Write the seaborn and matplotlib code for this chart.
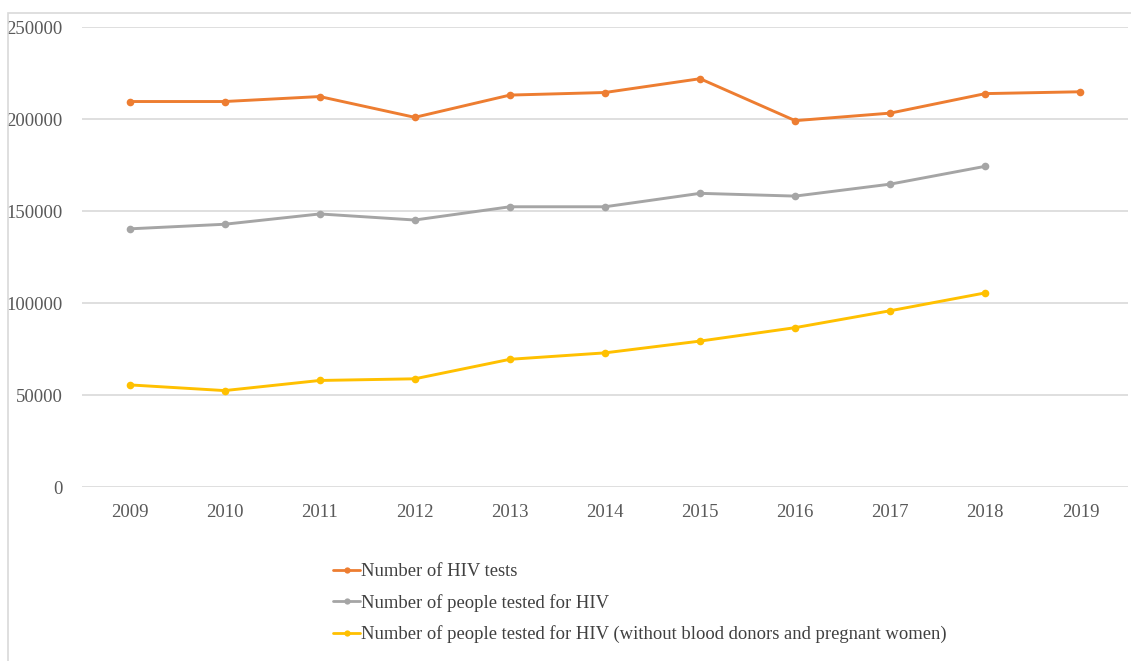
import numpy as np
import pandas as pd
import matplotlib
matplotlib.use("Agg")
import matplotlib.pyplot as plt
from matplotlib.lines import Line2D
from matplotlib.patches import Rectangle
import seaborn as sns

years = [2009, 2010, 2011, 2012, 2013, 2014, 2015, 2016, 2017, 2018, 2019]
hiv_tests = [209500, 209500, 212200, 200900, 213000, 214400, 221900, 199100, 203200, 213800, 214800]
people_tested = [140300, 142800, 148400, 145100, 152300, 152300, 159600, 158100, 164600, 174300, np.nan]
people_tested_excl = [55500, 52400, 57900, 58800, 69400, 72900, 79300, 86600, 95800, 105500, np.nan]

series_names = [
    "Number of HIV tests",
    "Number of people tested for HIV",
    "Number of people tested for HIV (without blood donors and pregnant women)",
]
colors = ["#ED7D31", "#A5A5A5", "#FFC000"]
y_ticks = [0, 50000, 100000, 150000, 200000, 250000]

frames = []
for name, vals in zip(series_names, [hiv_tests, people_tested, people_tested_excl]):
    frames.append(pd.DataFrame({"year": years, "value": vals, "series": name}))
df = pd.concat(frames, ignore_index=True).dropna()

sns.set_style("white")
plt.rcParams["font.family"] = ["Liberation Serif", "DejaVu Serif"]

fig = plt.figure(figsize=(11.31, 6.61), dpi=100)
ax = fig.add_axes([82 / 1131, 1 - 487 / 661, (1128 - 82) / 1131, (487 - 27) / 661])

sns.lineplot(data=df, x="year", y="value", hue="series", hue_order=series_names,
             palette=colors, marker="o", markersize=5.5, markeredgewidth=0,
             linewidth=2.1, ax=ax, legend=False, sort=True)

ax.set_xlim(2008.5, 2019.5)
ax.set_ylim(0, 250000)
ax.set_xticks(years)
ax.set_xticklabels([str(y) for y in years])
ax.set_yticks(y_ticks)
ax.set_yticklabels([str(v) for v in y_ticks])
ax.set_xlabel("")
ax.set_ylabel("")
ax.grid(axis="y", color="#D9D9D9", linewidth=1.2)
ax.grid(axis="x", visible=False)
ax.set_axisbelow(True)
for s in ax.spines.values():
    s.set_visible(False)
ax.tick_params(axis="both", length=0, labelsize=13.5, colors="#595959")
ax.tick_params(axis="y", pad=14)
ax.tick_params(axis="x", pad=12)

handles = [Line2D([0], [0], color=c, linewidth=2.0, marker="o", markersize=4.5,
                  markeredgewidth=0) for c in colors]
fig.legend(handles, series_names, loc="upper left",
           bbox_to_anchor=(326 / 1131, 1 - 556 / 661), frameon=False,
           fontsize=13.4, labelcolor="#404040", handlelength=1.45, handletextpad=0.05,
           labelspacing=0.72, borderaxespad=0)

fig.patches.append(Rectangle((8 / 1131, -0.01), 1.2, 1 - 13 / 661 + 0.01,
                             transform=fig.transFigure, fill=False,
                             edgecolor="#D9D9D9", linewidth=1.2))

fig.savefig("out.png", dpi=100)
